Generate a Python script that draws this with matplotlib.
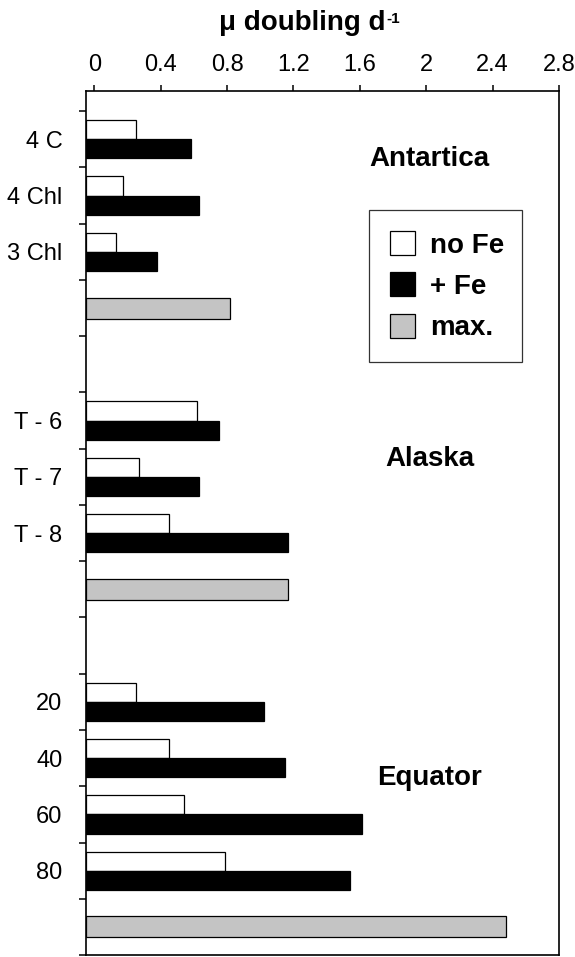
import numpy as np
import matplotlib
matplotlib.use("Agg")
import matplotlib.pyplot as plt
from matplotlib.patches import Patch

plt.rcParams["font.family"] = ["Liberation Sans", "DejaVu Sans"]

# growth rates per station, read as doublings per day
antarctica_labels = ["4 C", "4 Chl", "3 Chl"]
antarctica_no_fe = [0.25, 0.17, 0.13]
antarctica_plus_fe = [0.58, 0.63, 0.38]
antarctica_max = 0.82

alaska_labels = ["T - 6", "T - 7", "T - 8"]
alaska_no_fe = [0.62, 0.27, 0.45]
alaska_plus_fe = [0.75, 0.63, 1.17]
alaska_max = 1.17

equator_labels = ["20", "40", "60", "80"]
equator_no_fe = [0.25, 0.45, 0.54, 0.79]
equator_plus_fe = [1.02, 1.15, 1.61, 1.54]
equator_max = 2.48

region_names = ["Antartica", "Alaska", "Equator"]
x_ticks = [0, 0.4, 0.8, 1.2, 1.6, 2, 2.4, 2.8]

groups = [
    (antarctica_labels, antarctica_no_fe, antarctica_plus_fe, antarctica_max),
    (alaska_labels, alaska_no_fe, alaska_plus_fe, alaska_max),
    (equator_labels, equator_no_fe, equator_plus_fe, equator_max),
]

W, H = 575, 957
fig = plt.figure(figsize=(W / 100, H / 100), dpi=100)
ax = fig.add_axes([86 / W, 1 - 955 / H, (559 - 86) / W, (955 - 91) / H])

x0 = -0.05          # axis starts a little left of zero
pair_h = 0.34
max_h = 0.37
grey = "#c4c4c4"

rows = []           # (slot, label)
slot = 0
name_slots = []
for labels, no_fe, plus_fe, mx in groups:
    first = slot
    for lab, a, b in zip(labels, no_fe, plus_fe):
        ax.barh(slot - pair_h / 2, a - x0, height=pair_h, left=x0,
                color="white", edgecolor="black", linewidth=0.9)
        ax.barh(slot + pair_h / 2, b - x0, height=pair_h, left=x0,
                color="black", edgecolor="black", linewidth=0.9)
        rows.append((slot, lab))
        slot += 1
    ax.barh(slot, mx - x0, height=max_h, left=x0,
            color=grey, edgecolor="black", linewidth=0.9)
    name_slots.append(first)
    slot += 2

n_slots = slot - 1
ax.set_xlim(x0, 2.8)
ax.set_ylim(n_slots - 0.55, -0.86)

ax.xaxis.tick_top()
ax.set_xticks(x_ticks)
ax.set_xticklabels([f"{v:g}" for v in x_ticks])
ax.tick_params(axis="x", direction="out", length=4, width=1.1,
               labelsize=17, pad=7)

ax.set_yticks([r[0] for r in rows])
ax.set_yticklabels([r[1] for r in rows])
ax.set_yticks(np.arange(-0.5, n_slots, 1.0), minor=True)
ax.tick_params(axis="y", which="major", length=0, labelsize=17, pad=17)
ax.tick_params(axis="y", which="minor", direction="out", length=5, width=1.1)

for sp in ax.spines.values():
    sp.set_linewidth(1.2)

# region names
name_offsets = [0.48, 0.80, 1.47]
for name, first, off in zip(region_names, name_slots, name_offsets):
    ax.text(2.02, first + off, name, ha="center", va="baseline",
            fontsize=20, fontweight="bold")

title = fig.text(302 / W, 1 - 29.5 / H, "μ doubling d", ha="center",
                 va="baseline", fontsize=20, fontweight="bold")
ax.annotate("-1", xy=(1, 1), xycoords=title, xytext=(1, -2),
            textcoords="offset points", ha="left", va="top",
            fontsize=11, fontweight="bold")

handles = [
    Patch(facecolor="white", edgecolor="black", linewidth=0.9, label="no Fe"),
    Patch(facecolor="black", edgecolor="black", linewidth=0.9, label="+ Fe"),
    Patch(facecolor=grey, edgecolor="black", linewidth=0.9, label="max."),
]
leg = ax.legend(handles=handles, loc="upper left",
                bbox_to_anchor=(0.599, 0.862, 0.323, 0), mode="expand",
                prop={"size": 20, "weight": "bold"}, frameon=True,
                fancybox=False, edgecolor="black", borderpad=0.75,
                handlelength=0.9, handleheight=0.95, handletextpad=0.55,
                labelspacing=0.5, borderaxespad=0)
leg.get_frame().set_linewidth(0.9)

fig.savefig("out.png", dpi=100)
